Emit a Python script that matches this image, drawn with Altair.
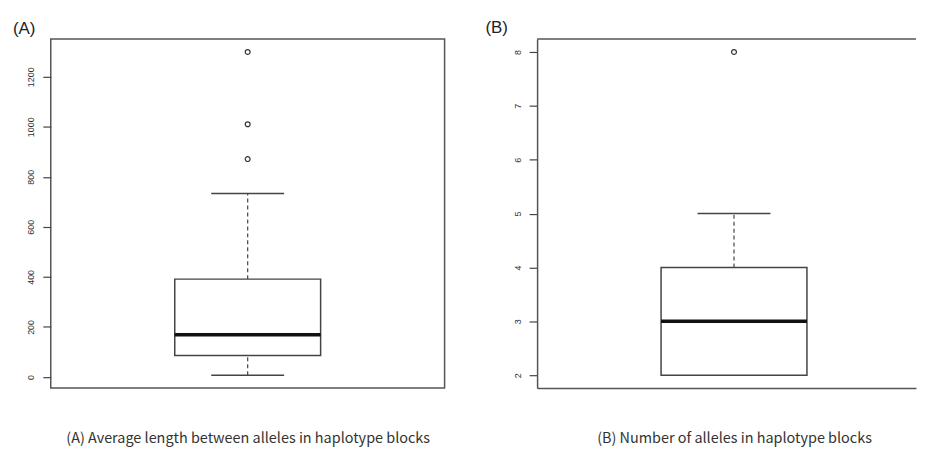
import altair as alt
import pandas as pd

# ---- data ----
panel_titles = ["(A)", "(B)"]
captions = [
    "(A) Average length between alleles in haplotype blocks",
    "(B) Number of alleles in haplotype blocks",
]
whisker_low = [7, 2]
q1 = [86, 2]
median = [169, 3]
q3 = [391, 4]
whisker_high = [733, 5]
outliers = [[871, 1010, 1299], [8]]
y_ticks = [[0, 200, 400, 600, 800, 1000, 1200], [2, 3, 4, 5, 6, 7, 8]]

LINE = "#444"
FRAME = "#555"
FONT = "Liberation Sans"
FULL_W = 396  # width of the R plot region


def make_panel(i, width, height, extent, title_dx, open_right=False):
    lo_all = min([whisker_low[i]] + outliers[i])
    hi_all = max([whisker_high[i]] + outliers[i])
    pad = (hi_all - lo_all) * 0.04
    ys = alt.Scale(domain=[lo_all - pad, hi_all + pad], nice=False, zero=False)
    x_right = 0.46 + 1.08 * width / FULL_W
    xs = alt.Scale(domain=[0.46, x_right], nice=False, zero=False)

    xaxis = alt.Axis(
        title=captions[i], labels=False, ticks=False, domain=open_right, grid=False,
        domainColor=FRAME, domainWidth=1.5,
        titleFont="Noto Sans CJK KR", titleFontSize=14.5, titleFontWeight="normal",
        titleColor="#333", titleBaseline="alphabetic", titleY=55,
        titleX=FULL_W / 2,
    )
    yaxis = alt.Axis(
        values=y_ticks[i], format="d", labelAngle=270, labelAlign="center",
        labelBaseline="alphabetic", tickSize=8, labelPadding=9, domain=open_right,
        domainColor=FRAME, domainWidth=1.5,
        grid=False, title=None, minExtent=extent, maxExtent=extent,
        labelFontSize=9, labelColor="#333", labelFont=FONT,
        tickColor=LINE, tickWidth=1.2,
    )

    box = pd.DataFrame({
        "xc": [1.0], "xl": [0.8], "xr": [1.2], "sl": [0.9], "sr": [1.1],
        "lo": [whisker_low[i]], "q1": [q1[i]], "med": [median[i]],
        "q3": [q3[i]], "hi": [whisker_high[i]],
    })
    out = pd.DataFrame({"xc": [1.0] * len(outliers[i]), "v": outliers[i]})

    base = alt.Chart(box)
    whisk_up = base.mark_rule(color=LINE, strokeWidth=1.2, strokeDash=[4, 3]).encode(
        x=alt.X("xc:Q", scale=xs, axis=xaxis), y=alt.Y("q3:Q", scale=ys, axis=yaxis), y2="hi:Q")
    whisk_dn = base.mark_rule(color=LINE, strokeWidth=1.2, strokeDash=[4, 3]).encode(
        x=alt.X("xc:Q", scale=xs, axis=xaxis), y=alt.Y("lo:Q", scale=ys, axis=yaxis), y2="q1:Q")
    staple_hi = base.mark_rule(color=LINE, strokeWidth=1.5).encode(
        x=alt.X("sl:Q", scale=xs, axis=xaxis), x2="sr:Q", y=alt.Y("hi:Q", scale=ys, axis=yaxis))
    staple_lo = base.mark_rule(color=LINE, strokeWidth=1.5).encode(
        x=alt.X("sl:Q", scale=xs, axis=xaxis), x2="sr:Q", y=alt.Y("lo:Q", scale=ys, axis=yaxis))
    rect = base.mark_rect(fill="white", stroke=LINE, strokeWidth=1.5).encode(
        x=alt.X("xl:Q", scale=xs, axis=xaxis), x2="xr:Q",
        y=alt.Y("q1:Q", scale=ys, axis=yaxis), y2="q3:Q")
    med = base.mark_rule(color="#111", strokeWidth=3.5).encode(
        x=alt.X("xl:Q", scale=xs, axis=xaxis), x2="xr:Q", y=alt.Y("med:Q", scale=ys, axis=yaxis))
    pts = alt.Chart(out).mark_point(shape="circle", filled=False, size=24,
                                    strokeWidth=1.2, color="#333", opacity=1).encode(
        x=alt.X("xc:Q", scale=xs, axis=xaxis), y=alt.Y("v:Q", scale=ys, axis=yaxis))

    layers = [whisk_up, whisk_dn, staple_hi, staple_lo, rect, med, pts]
    props = dict(
        width=width, height=height,
        title=alt.TitleParams(panel_titles[i], anchor="start", frame="bounds",
                              fontSize=17, fontWeight="normal", font=FONT,
                              color="#222", dx=title_dx, offset=1),
    )
    if open_right:
        # frame continues past the right edge of the picture: top edge only
        top_edge = base.mark_rule(color=FRAME, strokeWidth=1.5).encode(
            x=alt.value(0), x2=alt.value(width), y=alt.value(0))
        layers.append(top_edge)
        props["view"] = alt.ViewBackground(stroke="transparent")
    return alt.layer(*layers).properties(**props)


panel_a = make_panel(0, 396, 351, 42, 4)
panel_b = make_panel(1, 381, 351, 52, 0, open_right=True)

chart = alt.hconcat(panel_a, panel_b, spacing=39).properties(
    padding={"left": 0, "top": 9, "right": 0, "bottom": 0},
    background="white",
).configure_view(stroke=FRAME, strokeWidth=1.5)

chart.save("out.html", embed_options={"renderer": "svg", "actions": False})
